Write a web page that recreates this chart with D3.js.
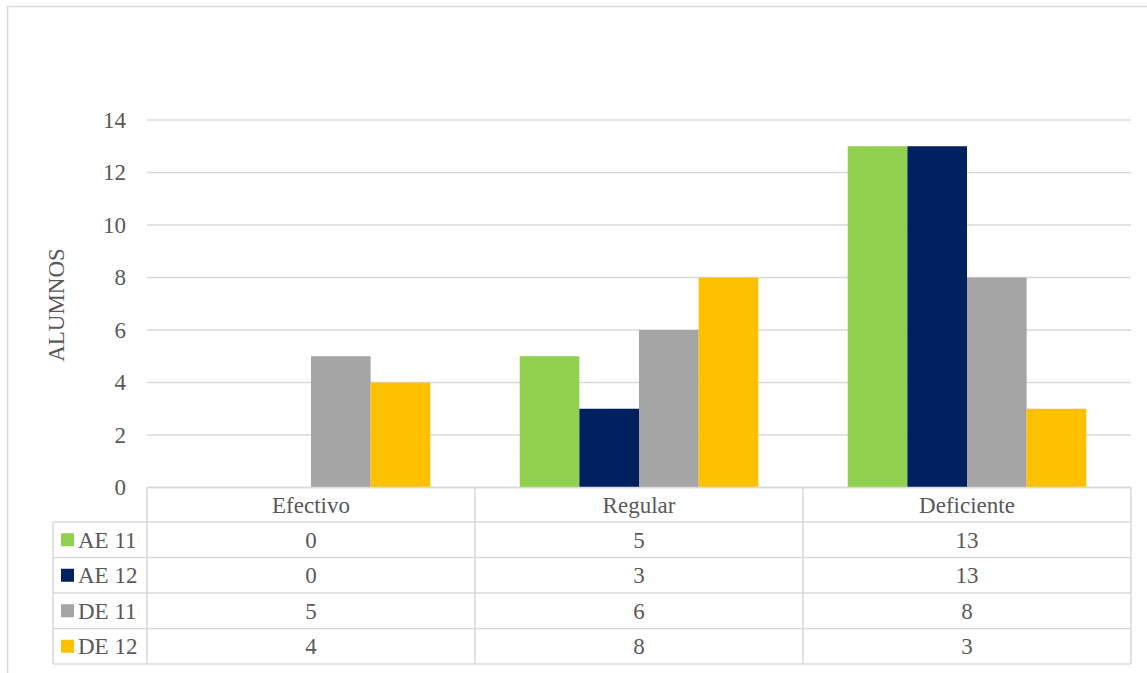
<!DOCTYPE html>
<html>
<head>
<meta charset="utf-8">
<script src="https://cdn.jsdelivr.net/npm/d3@7"></script>
<style>
  html, body { margin: 0; padding: 0; background: #fff; }
  svg { display: block; }
</style>
</head>
<body>
<svg id="chart" width="1147" height="673"></svg>
<script>
// Categories and series
const categories = ["Efectivo", "Regular", "Deficiente"];
const seriesNames = ["AE 11", "AE 12", "DE 11", "DE 12"];
const seriesColors = ["#92D050", "#002060", "#A5A5A5", "#FFC000"];
const ae11 = [0, 5, 13];
const ae12 = [0, 3, 13];
const de11 = [5, 6, 8];
const de12 = [4, 8, 3];
const yTicks = [0, 2, 4, 6, 8, 10, 12, 14];

const seriesValues = [ae11, ae12, de11, de12];
const series = seriesNames.map((name, i) => ({ name, color: seriesColors[i], values: seriesValues[i] }));

const svg = d3.select("#chart");
const gridColor = "#d9d9d9";
const textColor = "#595959";
const fontFamily = '"Liberation Serif", "Times New Roman", serif';
const fontSize = 23;

// Outer chart frame
svg.append("rect")
  .attr("x", 7.5).attr("y", 6.5)
  .attr("width", 1200).attr("height", 700)
  .attr("fill", "none").attr("stroke", gridColor).attr("stroke-width", 1.5);

// Plot area
const plotLeft = 147, plotRight = 1131, plotTop = 120, plotBottom = 487.5;

const x = d3.scaleBand().domain(categories).range([plotLeft, plotRight]).paddingInner(0).paddingOuter(0);
const xs = d3.scaleBand().domain(seriesNames).range([0, x.bandwidth()]).paddingInner(0).paddingOuter(0.75);
const y = d3.scaleLinear().domain([0, 14]).range([plotBottom, plotTop]);

// Gridlines
svg.append("g").selectAll("line").data(yTicks).join("line")
  .attr("x1", plotLeft).attr("x2", plotRight)
  .attr("y1", d => y(d)).attr("y2", d => y(d))
  .attr("stroke", gridColor).attr("stroke-width", 1.5);

// Y axis tick labels
const yAxis = d3.axisLeft(y).tickValues(yTicks).tickSize(0).tickPadding(0);
const yg = svg.append("g").attr("transform", "translate(126,0)").call(yAxis);
yg.select(".domain").remove();

// Y axis title
svg.append("text")
  .attr("transform", "translate(64,305) rotate(-90)")
  .attr("text-anchor", "middle")
  .text("ALUMNOS");

// Bars
const groups = svg.append("g").selectAll("g").data(series).join("g")
  .attr("fill", d => d.color);
groups.selectAll("rect")
  .data(d => d.values.map((v, i) => ({ name: d.name, cat: categories[i], v })))
  .join("rect")
  .attr("x", d => x(d.cat) + xs(d.name))
  .attr("width", xs.bandwidth())
  .attr("y", d => y(d.v))
  .attr("height", d => y(0) - y(d.v));

// Data table below the plot
const headerTop = 487.5;
const headerBottom = 522;
const rowH = 35.5;
const legendLeft = 53;
const rowTops = series.map((d, i) => headerBottom + i * rowH);
const tableBottom = headerBottom + series.length * rowH;

const tg = svg.append("g");
// horizontal rules
tg.append("line").attr("x1", plotLeft).attr("x2", plotRight).attr("y1", headerTop).attr("y2", headerTop);
[headerBottom, ...rowTops.map(t => t + rowH)].forEach(yy => {
  tg.append("line").attr("x1", legendLeft).attr("x2", plotRight).attr("y1", yy).attr("y2", yy);
});
// vertical rules
const colEdges = [plotLeft, ...categories.map(c => x(c) + x.bandwidth())];
colEdges.forEach(xx => {
  tg.append("line").attr("x1", xx).attr("x2", xx).attr("y1", headerTop).attr("y2", tableBottom);
});
tg.append("line").attr("x1", legendLeft).attr("x2", legendLeft).attr("y1", headerBottom).attr("y2", tableBottom);
tg.selectAll("line").attr("stroke", gridColor).attr("stroke-width", 1.5);

// header labels
tg.selectAll("text.cat").data(categories).join("text")
  .attr("class", "cat")
  .attr("x", d => x(d) + x.bandwidth() / 2)
  .attr("y", (headerTop + headerBottom) / 2)
  .attr("dy", "0.35em")
  .attr("text-anchor", "middle")
  .text(d => d);

// rows: legend key + values
series.forEach((s, i) => {
  const cy = rowTops[i] + rowH / 2;
  tg.append("rect")
    .attr("x", 61).attr("y", cy - 6.5)
    .attr("width", 13).attr("height", 13)
    .attr("fill", s.color);
  tg.append("text")
    .attr("x", 78).attr("y", cy).attr("dy", "0.35em")
    .text(s.name);
  s.values.forEach((v, j) => {
    tg.append("text")
      .attr("x", x(categories[j]) + x.bandwidth() / 2)
      .attr("y", cy).attr("dy", "0.35em")
      .attr("text-anchor", "middle")
      .text(v);
  });
});

// Shared text styling
svg.selectAll("text")
  .style("font-family", fontFamily)
  .style("font-size", fontSize + "px")
  .style("fill", textColor);
</script>
</body>
</html>
